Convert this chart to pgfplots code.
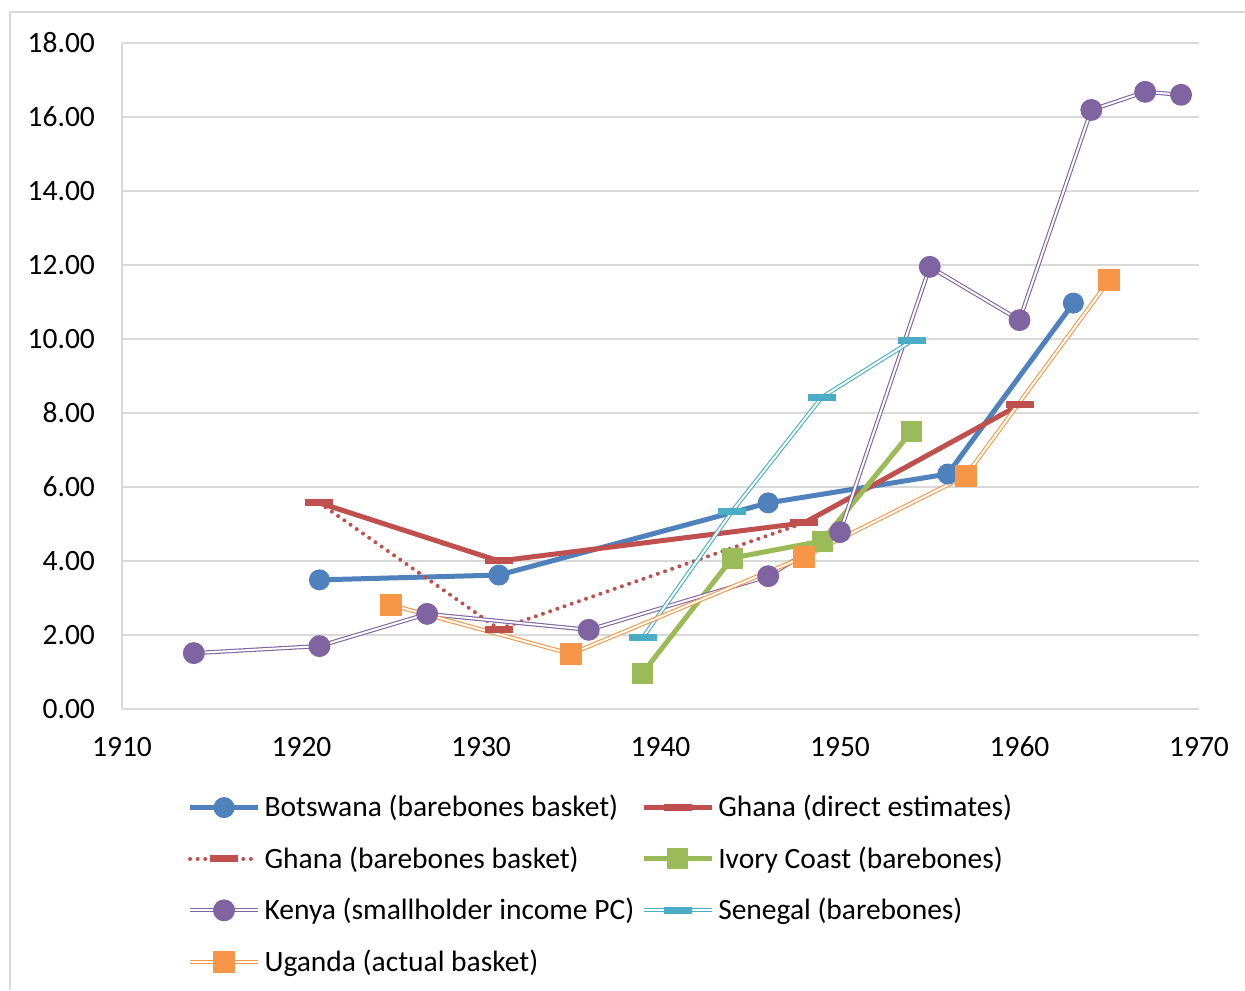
\documentclass[border=0pt]{standalone}
\usepackage{pgfplots}
\pgfplotsset{compat=1.18}
\usepackage{fontspec}
\setmainfont{Carlito}
\definecolor{cBlue}{HTML}{4F81BD}
\definecolor{cRed}{HTML}{C0504D}
\definecolor{cGreen}{HTML}{9BBB59}
\definecolor{cPurple}{HTML}{8064A2}
\definecolor{cTeal}{HTML}{4BACC6}
\definecolor{cOrange}{HTML}{F79646}
\definecolor{cGrid}{HTML}{D9D9D9}
\begin{document}
\begin{tikzpicture}[font=\fontsize{14.75}{17}\selectfont]
\useasboundingbox (0,0) rectangle (622.5pt,495pt);
\draw[cGrid, line width=1pt] (5pt,0pt) -- (5pt,489pt) -- (622.5pt,489pt);
\begin{axis}[
  scale only axis,
  width=538.5pt, height=333pt,
  at={(61pt,140.5pt)}, anchor=south west,
  xmin=1910, xmax=1970, ymin=0, ymax=18,
  xtick={1910,1920,1930,1940,1950,1960,1970},
  xticklabels={1910,1920,1930,1940,1950,1960,1970},
  ytick={0,2,4,6,8,10,12,14,16,18},
  yticklabel style={/pgf/number format/fixed, /pgf/number format/fixed zerofill, /pgf/number format/precision=2, /pgf/number format/assume math mode=true, xshift=-10pt},
  major tick length=0pt,
  axis x line*=bottom, axis y line*=left,
  axis line style={draw=cGrid, line width=1pt, -},
  ymajorgrids, grid style={draw=cGrid, line width=1pt},
  xticklabel style={yshift=-10.5pt},
  clip=false,
  legend columns=2,
  legend cell align=left,
  legend style={at={(0.0605,-0.1230)}, anchor=north west, draw=none, fill=none,
    inner sep=0pt, row sep=9.4pt,
    /tikz/every even column/.append style={column sep=1.5pt}},
  legend image code/.code={\draw[mark repeat=2,mark phase=2] plot coordinates {(0pt,0pt) (17pt,0pt) (34pt,0pt)};},
]
% Botswana
\addplot[cBlue, line width=2.5pt, mark=*, mark size=5pt, mark options={solid, fill=cBlue, draw=cBlue, line width=0.5pt}]
coordinates {(1921,3.49) (1931,3.62) (1946,5.57) (1956,6.35) (1963,10.97)};
\addlegendentry{Botswana (barebones basket)}
% Ghana direct
\addplot[cRed, line width=2.5pt, mark=-, mark size=7pt, mark options={solid, draw=cRed, line width=3.5pt}]
coordinates {(1921,5.57) (1931,4.00) (1948,5.03) (1960,8.22)};
\addlegendentry{Ghana (direct estimates)}
% Ghana barebones
\addplot[cRed, line width=2pt, line cap=round, dash pattern=on 0pt off 3.8pt, mark=-, mark size=7pt, mark options={solid, line cap=butt, draw=cRed, line width=3.5pt}]
coordinates {(1921,5.57) (1931,2.16) (1948,5.03)};
\addlegendentry{Ghana (barebones basket)}
% Ivory Coast
\addplot[cGreen, line width=2.5pt, mark=square*, mark size=5pt, mark options={solid, fill=cGreen, draw=cGreen, line width=0.5pt}]
coordinates {(1939,0.97) (1944,4.08) (1949,4.54) (1954,7.51)};
\addlegendentry{Ivory Coast (barebones)}
% Kenya
\addplot[cPurple, line width=0.55pt, double=white, double distance=1pt, mark=*, mark size=5.2pt, mark options={solid, fill=cPurple, draw=none}]
coordinates {(1914,1.51) (1921,1.70) (1927,2.57) (1936,2.14) (1946,3.59) (1950,4.78) (1955,11.95) (1960,10.51) (1964,16.19) (1967,16.68) (1969,16.60)};
\addlegendentry{Kenya (smallholder income PC)}
% Senegal
\addplot[cTeal, line width=0.55pt, double=white, double distance=1pt, mark=-, mark size=7pt, mark options={solid, draw=cTeal, line width=3.5pt}]
coordinates {(1939,1.92) (1944,5.35) (1949,8.43) (1954,9.95)};
\addlegendentry{Senegal (barebones)}
% Uganda
\addplot[cOrange, line width=0.55pt, double=white, double distance=1pt, mark=square*, mark size=5.2pt, mark options={solid, fill=cOrange, draw=none}]
coordinates {(1925,2.81) (1935,1.49) (1948,4.11) (1957,6.30) (1965,11.59)};
\addlegendentry{Uganda (actual basket)}
\end{axis}
\end{tikzpicture}
\end{document}
